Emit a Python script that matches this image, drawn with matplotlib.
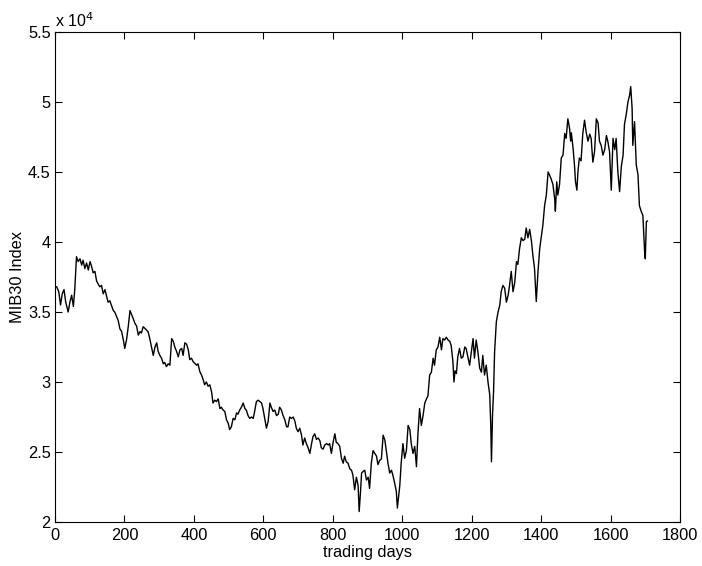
import matplotlib
matplotlib.use("Agg")
import matplotlib.pyplot as plt
from matplotlib.ticker import FixedLocator, FuncFormatter

plt.rcParams['font.family'] = ['Liberation Sans', 'DejaVu Sans']

days = [1, 5, 11, 16, 21, 26, 31, 38, 43, 48, 53, 57, 62, 67, 72, 77, 81, 86, 91, 96,
        101, 105, 110, 115, 120, 129, 134, 139, 144, 153, 158, 168, 172, 182, 187, 192, 197, 201, 206, 211,
        216, 221, 225, 230, 235, 240, 245, 249, 254, 264, 268, 273, 278, 283, 288, 293, 297, 302, 307, 312,
        316, 321, 326, 331, 336, 341, 345, 350, 355, 360, 365, 369, 374, 379, 384, 388, 393, 398, 408, 412,
        417, 422, 427, 431, 436, 441, 446, 451, 455, 460, 465, 470, 475, 479, 484, 489, 494, 499, 503, 508,
        513, 518, 523, 527, 532, 537, 542, 547, 551, 556, 561, 566, 571, 575, 580, 585, 590, 595, 599, 604,
        609, 614, 619, 623, 628, 633, 638, 643, 647, 652, 657, 662, 667, 671, 676, 681, 686, 691, 695, 700,
        705, 710, 714, 719, 724, 729, 734, 739, 743, 748, 753, 758, 763, 767, 772, 777, 782, 787, 791, 796,
        801, 806, 810, 815, 820, 825, 830, 834, 839, 844, 849, 854, 858, 863, 868, 873, 876, 880, 883, 887,
        892, 897, 902, 906, 911, 916, 921, 926, 930, 935, 940, 945, 950, 954, 959, 964, 969, 973, 978, 983,
        986, 990, 993, 997, 1002, 1007, 1012, 1017, 1022, 1026, 1031, 1036, 1041, 1045, 1050, 1055, 1060, 1065, 1070, 1074,
        1079, 1084, 1089, 1093, 1098, 1103, 1108, 1113, 1117, 1122, 1127, 1132, 1137, 1141, 1146, 1149, 1152, 1156, 1160, 1165,
        1170, 1175, 1180, 1184, 1189, 1194, 1199, 1204, 1208, 1213, 1218, 1223, 1228, 1232, 1237, 1242, 1247, 1252, 1255, 1257,
        1260, 1263, 1266, 1271, 1276, 1281, 1285, 1290, 1295, 1300, 1305, 1309, 1314, 1319, 1324, 1329, 1333, 1338, 1343, 1348,
        1353, 1357, 1362, 1367, 1372, 1376, 1381, 1386, 1391, 1396, 1400, 1405, 1410, 1415, 1420, 1424, 1429, 1434, 1439, 1441,
        1445, 1448, 1453, 1458, 1463, 1468, 1472, 1477, 1482, 1485, 1487, 1492, 1496, 1499, 1503, 1506, 1510, 1515, 1520, 1525,
        1530, 1535, 1540, 1544, 1549, 1554, 1559, 1564, 1568, 1573, 1578, 1583, 1588, 1592, 1597, 1602, 1607, 1612, 1616, 1621,
        1626, 1631, 1636, 1640, 1645, 1650, 1655, 1658, 1662, 1664, 1669, 1674, 1679, 1683, 1688, 1693, 1698, 1700, 1703, 1706]

mib30 = [3.68, 3.68, 3.645, 3.55, 3.63, 3.66, 3.57, 3.50, 3.57, 3.62, 3.54, 3.66, 3.895, 3.86, 3.88, 3.835, 3.87, 3.81, 3.85, 3.80,
         3.86, 3.83, 3.78, 3.79, 3.72, 3.68, 3.69, 3.63, 3.66, 3.57, 3.58, 3.51, 3.50, 3.44, 3.38, 3.36, 3.30, 3.24, 3.30, 3.395,
         3.51, 3.48, 3.455, 3.42, 3.40, 3.335, 3.36, 3.35, 3.395, 3.37, 3.36, 3.31, 3.25, 3.19, 3.25, 3.28, 3.22, 3.19, 3.17, 3.13,
         3.14, 3.11, 3.13, 3.12, 3.31, 3.29, 3.25, 3.22, 3.18, 3.23, 3.24, 3.19, 3.28, 3.27, 3.23, 3.16, 3.17, 3.145, 3.12, 3.13,
         3.075, 3.05, 3.015, 2.98, 3.00, 2.97, 2.98, 2.93, 2.85, 2.87, 2.86, 2.88, 2.81, 2.82, 2.80, 2.79, 2.73, 2.705, 2.66, 2.68,
         2.74, 2.73, 2.78, 2.77, 2.80, 2.82, 2.85, 2.81, 2.80, 2.76, 2.74, 2.75, 2.74, 2.79, 2.86, 2.87, 2.86, 2.85, 2.81, 2.74,
         2.67, 2.72, 2.85, 2.82, 2.79, 2.80, 2.76, 2.77, 2.82, 2.80, 2.76, 2.73, 2.68, 2.68, 2.75, 2.74, 2.75, 2.72, 2.67, 2.645,
         2.67, 2.62, 2.55, 2.60, 2.56, 2.53, 2.49, 2.56, 2.61, 2.63, 2.59, 2.60, 2.58, 2.53, 2.52, 2.55, 2.56, 2.55, 2.56, 2.49,
         2.57, 2.63, 2.57, 2.56, 2.54, 2.455, 2.42, 2.47, 2.43, 2.42, 2.38, 2.37, 2.335, 2.23, 2.32, 2.26, 2.075, 2.22, 2.35, 2.36,
         2.37, 2.30, 2.32, 2.24, 2.42, 2.51, 2.49, 2.47, 2.41, 2.44, 2.45, 2.62, 2.585, 2.51, 2.42, 2.35, 2.37, 2.335, 2.28, 2.22,
         2.10, 2.19, 2.26, 2.42, 2.56, 2.455, 2.51, 2.69, 2.66, 2.56, 2.49, 2.54, 2.395, 2.62, 2.81, 2.69, 2.76, 2.85, 2.88, 2.90,
         3.05, 3.07, 3.17, 3.12, 3.23, 3.25, 3.32, 3.23, 3.31, 3.30, 3.32, 3.30, 3.29, 3.26, 3.145, 3.00, 3.08, 3.06, 3.18, 3.24,
         3.17, 3.18, 3.25, 3.24, 3.18, 3.12, 3.215, 3.31, 3.17, 3.30, 3.215, 3.10, 3.07, 3.19, 3.05, 3.12, 3.00, 2.91, 2.69, 2.43,
         2.76, 2.93, 3.215, 3.43, 3.50, 3.55, 3.645, 3.69, 3.67, 3.57, 3.62, 3.69, 3.79, 3.645, 3.71, 3.86, 3.84, 3.955, 4.03, 4.01,
         4.02, 4.10, 4.03, 4.09, 4.01, 3.91, 3.81, 3.575, 3.79, 3.955, 4.03, 4.12, 4.26, 4.335, 4.50, 4.48, 4.45, 4.41, 4.31, 4.22,
         4.43, 4.335, 4.41, 4.60, 4.62, 4.775, 4.74, 4.88, 4.81, 4.72, 4.78, 4.67, 4.55, 4.43, 4.37, 4.50, 4.60, 4.58, 4.775, 4.87,
         4.78, 4.72, 4.77, 4.74, 4.57, 4.65, 4.88, 4.85, 4.72, 4.69, 4.62, 4.66, 4.76, 4.72, 4.645, 4.37, 4.74, 4.66, 4.74, 4.50,
         4.36, 4.54, 4.62, 4.84, 4.91, 5.00, 5.05, 5.11, 4.955, 4.69, 4.86, 4.55, 4.48, 4.26, 4.22, 4.19, 3.93, 3.88, 4.145, 4.15]

x_ticks = [0, 200, 400, 600, 800, 1000, 1200, 1400, 1600, 1800]
y_ticks = [2.0, 2.5, 3.0, 3.5, 4.0, 4.5, 5.0, 5.5]
x_label = "trading days"
y_label = "MIB30 Index"
multiplier = r"x 10$^{4}$"

fig = plt.figure(figsize=(7.02, 5.66), dpi=100)
ax = fig.add_axes([0.0783, 0.0777, 0.8904, 0.8658])
ax.plot(days, mib30, color='black', linewidth=1.0)

ax.set_xlim(0, 1800)
ax.set_ylim(2.0, 5.5)
ax.xaxis.set_major_locator(FixedLocator(x_ticks))
ax.yaxis.set_major_locator(FixedLocator(y_ticks))
ax.xaxis.set_major_formatter(FuncFormatter(lambda v, p: f"{v:g}"))
ax.yaxis.set_major_formatter(FuncFormatter(lambda v, p: f"{v:g}"))
ax.tick_params(direction='in', length=5, width=0.8, labelsize=11.8, top=True, right=True,
               colors='black')
ax.tick_params(axis='x', pad=4)
ax.tick_params(axis='y', pad=3)
for s in ax.spines.values():
    s.set_linewidth(0.8)
ax.set_xlabel(x_label, fontsize=11.8, labelpad=2)
ax.set_ylabel(y_label, fontsize=11.8, labelpad=2)
ax.text(0.0, 1.005, multiplier, transform=ax.transAxes, fontsize=11.5, ha='left', va='bottom')

fig.savefig("out.png", dpi=100)
